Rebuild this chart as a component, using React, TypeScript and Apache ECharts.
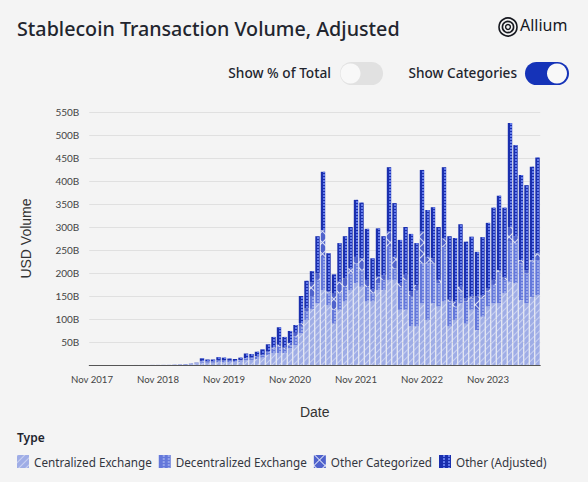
import React, { useEffect, useRef } from "react";
import * as echarts from "echarts";

const months = ["Nov 2017","Dec 2017","Jan 2018","Feb 2018","Mar 2018","Apr 2018","May 2018","Jun 2018","Jul 2018","Aug 2018","Sep 2018","Oct 2018","Nov 2018","Dec 2018","Jan 2019","Feb 2019","Mar 2019","Apr 2019","May 2019","Jun 2019","Jul 2019","Aug 2019","Sep 2019","Oct 2019","Nov 2019","Dec 2019","Jan 2020","Feb 2020","Mar 2020","Apr 2020","May 2020","Jun 2020","Jul 2020","Aug 2020","Sep 2020","Oct 2020","Nov 2020","Dec 2020","Jan 2021","Feb 2021","Mar 2021","Apr 2021","May 2021","Jun 2021","Jul 2021","Aug 2021","Sep 2021","Oct 2021","Nov 2021","Dec 2021","Jan 2022","Feb 2022","Mar 2022","Apr 2022","May 2022","Jun 2022","Jul 2022","Aug 2022","Sep 2022","Oct 2022","Nov 2022","Dec 2022","Jan 2023","Feb 2023","Mar 2023","Apr 2023","May 2023","Jun 2023","Jul 2023","Aug 2023","Sep 2023","Oct 2023","Nov 2023","Dec 2023","Jan 2024","Feb 2024","Mar 2024","Apr 2024","May 2024","Jun 2024","Jul 2024","Aug 2024"];
const centralized = [0,0,0,0,0,0,0,0,0.1,0.1,0.1,0.2,0.2,0.3,0.4,0.6,0.9,1.2,1.8,3,5,5,5,6,6,6,6,7,10,11,13,16,22,26,26,26,36,43,69,98,122,134,163,130,90,120,138,163,178,170,138,138,163,163,185,185,120,120,84,84,134,98,134,127,138,84,98,134,90,120,76,105,127,134,134,156,181,178,141,134,148,152];
const decentralized = [0,0,0,0,0,0,0,0,0,0,0,0.1,0.1,0.1,0.1,0.2,0.3,0.4,0.6,1,3,2.5,2.5,3,3,3,2.5,3,4,4,5,5,6,10,14,9,7,19,14,18,28,51,72,26,30,36,32,36,43,36,32,18,15,22,72,25,50,65,66,79,87,123,87,51,119,54,29,26,48,25,44,40,33,40,69,29,87,87,80,65,77,76];
const otherCategorized = [0,0,0,0,0,0,0,0,0,0,0,0,0,0,0,0.1,0.1,0.1,0.2,0.3,1,0.5,0.5,1,1,0.5,0.5,1,1,1,1,1,2,3,4,3,5,8,8,7,30,14,58,4,35,25,18,11,14,26,15,9,14,10,33,25,8,11,10,11,69,14,11,7,18,4,11,10,7,4,29,7,7,11,3,5,32,15,7,7,3,15];
const otherAdjusted = [0,0,0,0,0,0,0,0,0,0,0,0,0,0,0,0.1,0.2,0.3,0.4,0.7,5.5,4,4,7,6,4.5,4,5,10,8,10,12,15,22,38,23,26,17,59,60,24,81,127,83,42,84,92,90,124,121,111,67,105,85,140,117,94,104,125,91,134,102,111,115,155,138,138,136,123,130,97,126,142,157,162,152,226,198,185,185,203,208];
const seriesNames = ["Centralized Exchange", "Decentralized Exchange", "Other Categorized", "Other (Adjusted)"];

const FONT = "'Noto Sans', sans-serif";
const AXIS_FONT = "Lato, sans-serif";
const TITLE_FONT = "'Liberation Sans', sans-serif";
const TEXT = "#22252e";

const columnDots = { symbol: "rect", symbolSize: 1, dashArrayX: [[0, 4, 2, 3, 2, 0]], dashArrayY: [2, 1], rotation: 0 };

const styles = [
  {
    color: "#9fade6",
    decal: { symbol: "rect", symbolSize: 1, dashArrayX: [1, 0], dashArrayY: [1, 4], rotation: -Math.PI / 4, color: "rgba(255,255,255,0.45)" },
  },
  { color: "#6478da", decal: { ...columnDots, color: "rgba(215,225,255,0.42)" } },
  {
    color: "#dbe0f6",
    decal: { symbol: "rect", symbolSize: 1, dashArrayX: [[7, 1]], dashArrayY: [7, 1], rotation: Math.PI / 4, color: "#4f62cc" },
  },
  { color: "#1a2fae", decal: { ...columnDots, color: "#6179ea" } },
];

export default function App() {
  const ref = useRef<HTMLDivElement>(null);
  useEffect(() => {
    const chart = echarts.init(ref.current!, null, { renderer: "svg" });
    const values = [centralized, decentralized, otherCategorized, otherAdjusted];
    chart.setOption({
      animation: false,
      backgroundColor: "#f4f4f4",
      textStyle: { fontFamily: FONT },
      title: {
        text: "Stablecoin Transaction Volume, Adjusted",
        left: 17,
        top: 18,
        padding: 0,
        textStyle: { fontFamily: FONT, fontSize: 19.7, fontWeight: 500, color: TEXT },
      },
      grid: { left: 89.25, width: 451, top: 112, height: 253 },
      xAxis: {
        type: "category",
        data: months,
        name: "Date",
        nameLocation: "middle",
        nameGap: 40,
        nameTextStyle: { fontFamily: TITLE_FONT, fontSize: 14, color: "#333" },
        axisLine: { lineStyle: { color: "#555" } },
        axisTick: { alignWithLabel: true, interval: 11, length: 8, lineStyle: { color: "#555" } },
        axisLabel: { interval: 11, fontFamily: AXIS_FONT, fontSize: 9.6, color: "#444", margin: 9 },
      },
      yAxis: {
        type: "value",
        min: 0,
        max: 550,
        interval: 50,
        name: "USD Volume",
        nameLocation: "middle",
        nameGap: 56,
        nameTextStyle: { fontFamily: TITLE_FONT, fontSize: 14, color: "#333" },
        axisLine: { show: false },
        axisTick: { show: false },
        splitLine: { lineStyle: { color: "#e0e0e0" } },
        axisLabel: {
          fontFamily: AXIS_FONT,
          fontSize: 10,
          color: "#444",
          margin: 10,
          formatter: (v: number) => (v ? `${v}B` : ""),
        },
      },
      legend: {
        left: 17,
        top: 455,
        padding: 0,
        itemGap: 7,
        itemWidth: 12,
        itemHeight: 13,
        icon: "rect",
        selectedMode: false,
        data: seriesNames,
        textStyle: { fontFamily: FONT, fontSize: 11.7, color: "#33363f" },
      },
      series: seriesNames.map((name, i) => ({
        name,
        type: "bar",
        stack: "total",
        barCategoryGap: "20%",
        data: values[i],
        itemStyle: styles[i],
        emphasis: { disabled: true },
      })),
      graphic: [
        { type: "text", x: 17, y: 431, style: { text: "Type", fontFamily: FONT, fontSize: 12, fontWeight: 600, fill: TEXT } },
        { type: "text", x: 331, y: 65, style: { text: "Show % of Total", textAlign: "right", fontFamily: FONT, fontSize: 13.7, fontWeight: 500, fill: TEXT } },
        { type: "rect", shape: { x: 340, y: 62, width: 43, height: 23, r: 11.5 }, style: { fill: "#e1e1e1" } },
        { type: "circle", shape: { cx: 350.5, cy: 73.5, r: 10 }, style: { fill: "#f8f8f8" } },
        { type: "text", x: 517, y: 65, style: { text: "Show Categories", textAlign: "right", fontFamily: FONT, fontSize: 13.6, fontWeight: 500, fill: TEXT } },
        { type: "rect", shape: { x: 525, y: 62, width: 44, height: 23, r: 11.5 }, style: { fill: "#1533b8" } },
        { type: "circle", shape: { cx: 557, cy: 73.5, r: 10 }, style: { fill: "#f8f8f8" } },
        { type: "circle", shape: { cx: 508, cy: 27, r: 9 }, style: { fill: "none", stroke: "#16181f", lineWidth: 1.6 } },
        { type: "circle", shape: { cx: 508, cy: 27, r: 5.6 }, style: { fill: "none", stroke: "#16181f", lineWidth: 1.6 } },
        { type: "circle", shape: { cx: 508, cy: 27, r: 2.4 }, style: { fill: "none", stroke: "#16181f", lineWidth: 1.4 } },
        { type: "text", x: 520, y: 17, style: { text: "Allium", fontFamily: FONT, fontSize: 16, fontWeight: 400, fill: "#16181f" } },
      ],
    });
    return () => chart.dispose();
  }, []);
  return <div ref={ref} style={{ position: "fixed", left: 0, top: 0, width: 588, height: 482 }} />;
}
